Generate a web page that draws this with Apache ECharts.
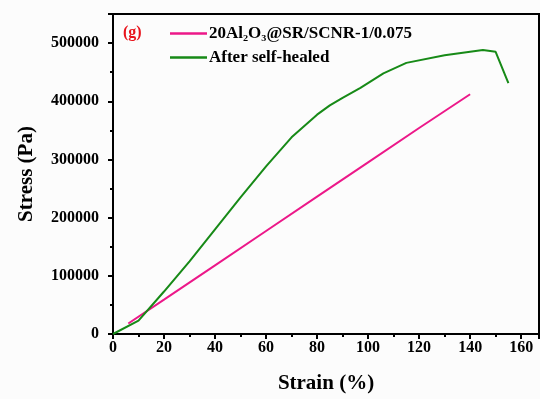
<!DOCTYPE html>
<html>
<head>
<meta charset="utf-8">
<script src="https://cdn.jsdelivr.net/npm/echarts@6/dist/echarts.min.js"></script>
<style>html,body{margin:0;padding:0;background:#fcfcfc;}#c{width:540px;height:399px;}</style>
</head>
<body>
<div id="c"></div>
<script>
var seriesNames = ['20Al\u2082O\u2083@SR/SCNR-1/0.075', 'After self-healed'];
var pinkStrain = [6, 20, 40, 60, 80, 100, 120, 140];
var pinkStress = [18000, 59000, 118000, 177000, 236000, 295000, 354000, 412000];
var greenStrain = [0, 10, 20, 30, 40, 50, 60, 70, 80, 85, 90, 97, 106, 115, 130, 145, 150, 155];
var greenStress = [0, 23000, 73000, 125000, 180000, 235000, 288000, 338000, 377000, 393000, 406000, 423000, 448000, 466000, 479000, 488000, 485000, 431000];
var panelLabel = '(g)';
var xTitle = 'Strain (%)';
var yTitle = 'Stress (Pa)';

function zip(a, b) { return a.map(function (v, i) { return [v, b[i]]; }); }
var font = 'Liberation Serif';
var chart = echarts.init(document.getElementById('c'));
chart.setOption({
  backgroundColor: '#fcfcfc',
  animation: false,
  title: {
    text: panelLabel, left: 118, top: 20,
    textStyle: { color: '#e8141c', fontFamily: font, fontWeight: 'bold', fontSize: 16 }
  },
  legend: {
    orient: 'vertical', left: 170, top: 25, itemGap: 7, padding: 0,
    icon: 'rect', itemWidth: 37, itemHeight: 2.5,
    textStyle: { fontFamily: font, fontWeight: 'bold', fontSize: 17, color: '#000', padding: [0, 0, 0, -3] },
    data: seriesNames
  },
  grid: { left: 113, right: 1, top: 14, bottom: 62, show: true, borderColor: '#000', borderWidth: 2 },
  xAxis: {
    type: 'value', min: 0, max: 167, interval: 20,
    name: xTitle, nameLocation: 'middle', nameGap: 39,
    nameTextStyle: { fontFamily: font, fontWeight: 'bold', fontSize: 21, color: '#000' },
    axisLine: { lineStyle: { color: '#000', width: 2 } },
    axisTick: { inside: false, length: 5, lineStyle: { color: '#000', width: 2 } },
    minorTick: { show: true, splitNumber: 2, length: 3, lineStyle: { color: '#000', width: 2 } },
    splitLine: { show: false },
    axisLabel: { showMaxLabel: false, margin: 6, fontFamily: font, fontWeight: 'bold', fontSize: 16, color: '#000' }
  },
  yAxis: {
    type: 'value', min: 0, max: 550000, interval: 100000,
    name: yTitle, nameLocation: 'middle', nameGap: 76,
    nameTextStyle: { fontFamily: font, fontWeight: 'bold', fontSize: 21, color: '#000' },
    axisLine: { lineStyle: { color: '#000', width: 2 } },
    axisTick: { inside: false, length: 5, lineStyle: { color: '#000', width: 2 } },
    minorTick: { show: true, splitNumber: 2, length: 3, lineStyle: { color: '#000', width: 2 } },
    splitLine: { show: false },
    axisLabel: { showMaxLabel: false, margin: 14, padding: [4, 0, 0, 0], fontFamily: font, fontWeight: 'bold', fontSize: 16, color: '#000',
      formatter: function (v) { return String(v); } }
  },
  series: [
    { name: seriesNames[0], type: 'line', data: zip(pinkStrain, pinkStress), showSymbol: false,
      itemStyle: { color: '#ec1889' }, lineStyle: { color: '#ec1889', width: 2 } },
    { name: seriesNames[1], type: 'line', data: zip(greenStrain, greenStress), showSymbol: false,
      itemStyle: { color: '#178a17' }, lineStyle: { color: '#178a17', width: 2 } }
  ]
});
</script>
</body>
</html>
